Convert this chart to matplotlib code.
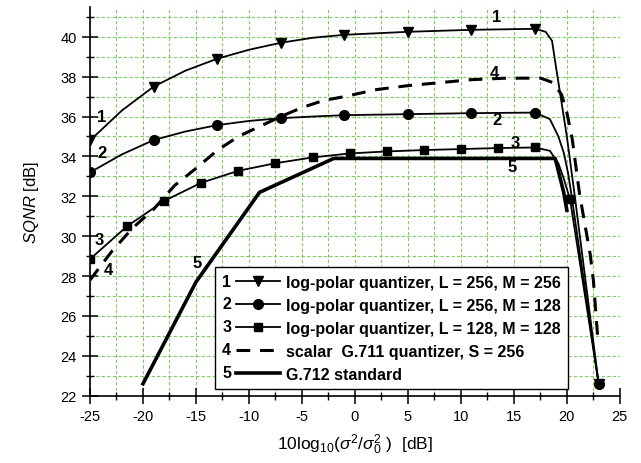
#! /usr/bin/env python3
# SQNR vs. input variance for log-polar and scalar quantizers

import matplotlib
matplotlib.use("Agg")
import matplotlib.pyplot as plt
from matplotlib.legend_handler import HandlerLine2D
from matplotlib.text import Text
from matplotlib.ticker import MultipleLocator

# 1: log-polar, L = 256, M = 256
x1 = [-25, -22, -19, -16, -13, -10, -7, -4, -1, 5, 11, 17, 18, 18.6, 19.0, 19.5, 20.0, 20.4, 20.75, 23]
y1 = [34.8, 36.3, 37.5, 38.3, 38.9, 39.35, 39.7, 39.95, 40.1, 40.25, 40.35, 40.4, 40.25, 39.8, 38.4, 36.7, 35.0, 33.4, 32.0, 22.6]
m1 = [0, 2, 4, 6, 8, 9, 10, 11, 19]

# 2: log-polar, L = 256, M = 128
x2 = [-25, -22, -19, -16, -13, -10, -7, -4, -1, 5, 11, 17, 18.4, 19.2, 19.7, 20.1, 20.4, 23]
y2 = [33.2, 34.1, 34.82, 35.25, 35.57, 35.78, 35.92, 36.0, 36.07, 36.12, 36.17, 36.2, 35.87, 35.0, 34.2, 33.2, 32.2, 22.6]
m2 = [0, 2, 4, 6, 8, 9, 10, 11, 17]

# 3: log-polar, L = 128, M = 128
x3 = [-25, -21.5, -18, -14.5, -11, -7.5, -4, -0.5, 3, 6.5, 10, 13.5, 17, 18.4, 19.2, 19.7, 20.3, 23]
y3 = [28.85, 30.5, 31.77, 32.68, 33.28, 33.66, 33.95, 34.15, 34.25, 34.32, 34.37, 34.42, 34.45, 34.28, 33.65, 32.9, 31.85, 22.6]
m3 = [0, 1, 2, 3, 4, 5, 6, 7, 8, 9, 10, 11, 12, 16]

# 4: scalar G.711, S = 256
x4 = [-25, -23, -21, -19, -17, -15, -13, -11, -9, -7, -5, -3, -1, 2, 5, 8, 11, 14, 17.5,
      18.7, 19.5, 20.0, 20.5, 21.2, 21.7, 22.2, 22.5, 22.9]
y4 = [27.8, 29.2, 30.4, 31.35, 32.55, 33.4, 34.3, 35.0, 35.5, 36.0, 36.45, 36.8, 37.0, 37.35, 37.55, 37.7, 37.85, 37.92, 37.93,
      37.7, 37.1, 36.2, 34.9, 32.1, 30.6, 29.1, 27.8, 25.0]

# 5: G.712 standard
x5 = [-20, -15, -9, -2, 18.9, 19.7, 20.0]
y5 = [22.6, 27.7, 32.2, 33.9, 33.9, 32.2, 31.3]

labels = ["log-polar quantizer, L = 256, M = 256",
          "log-polar quantizer, L = 256, M = 128",
          "log-polar quantizer, L = 128, M = 128",
          "scalar  G.711 quantizer, S = 256",
          "G.712 standard"]

# curve numbers written next to the curves
num_txt = ["1", "2", "3", "4", "5", "1", "4", "2", "3", "5"]
num_x = [-23.9, -23.9, -24.1, -23.3, -14.9, 13.4, 13.2, 13.4, 15.1, 14.8]
num_y = [36.0, 34.2, 29.85, 28.35, 28.7, 41.0, 38.2, 35.87, 34.7, 33.5]


class NumberedLine(HandlerLine2D):
    # legend handle with the curve number in front of the line
    def __init__(self, num, numw=0.87, **kw):
        super().__init__(**kw)
        self.num = num
        self.numw = numw

    def create_artists(self, legend, orig_handle, xdescent, ydescent,
                       width, height, fontsize, trans):
        shift = self.numw * fontsize
        arts = super().create_artists(legend, orig_handle, xdescent - shift, ydescent,
                                      width - shift, height, fontsize, trans)
        t = Text(-xdescent, (height - ydescent) / 2, self.num, ha="left", va="center",
                 fontsize=fontsize, fontweight="bold", transform=trans)
        return list(arts) + [t]


def main():
    plt.rcParams["font.family"] = ["Liberation Sans", "DejaVu Sans"]
    plt.rcParams["mathtext.fontset"] = "custom"
    plt.rcParams["mathtext.rm"] = "Liberation Sans"
    plt.rcParams["mathtext.it"] = "Liberation Sans:italic"
    plt.rcParams["axes.unicode_minus"] = False

    fig = plt.figure(figsize=(6.41, 4.64), dpi=100)
    ax = fig.add_axes([0.1404, 0.145, 0.967 - 0.1404, 0.983 - 0.145])

    grid_c = "#7dcc62"
    ax.grid(True, which="both", color=grid_c, linestyle=(0, (3, 2)), linewidth=0.8)
    ax.set_axisbelow(True)

    k = "black"
    l1, = ax.plot(x1, y1, color=k, lw=1.3, marker="v", ms=7.5, markevery=m1)
    l2, = ax.plot(x2, y2, color=k, lw=1.3, marker="o", ms=7, markevery=m2)
    l3, = ax.plot(x3, y3, color=k, lw=1.3, marker="s", ms=5.5, markevery=m3)
    l4, = ax.plot(x4, y4, color=k, lw=2.2, linestyle=(0, (4.5, 3.2)))
    l5, = ax.plot(x5, y5, color=k, lw=2.6)

    for t, xx, yy in zip(num_txt, num_x, num_y):
        ax.text(xx, yy, t, ha="center", va="center", fontsize=12, fontweight="bold")

    ax.set_xlim(-25, 25)
    ax.set_ylim(22, 41.5)
    ax.xaxis.set_major_locator(MultipleLocator(5))
    ax.xaxis.set_minor_locator(MultipleLocator(2.5))
    ax.yaxis.set_major_locator(MultipleLocator(2))
    ax.yaxis.set_minor_locator(MultipleLocator(1))
    ax.tick_params(which="major", direction="inout", length=11, width=1.1, labelsize=10.5, pad=4)
    ax.tick_params(which="minor", direction="inout", length=6, width=1.0)

    for s in ["top", "right"]:
        ax.spines[s].set_visible(False)
    for s in ["left", "bottom"]:
        ax.spines[s].set_linewidth(1.2)

    ax.set_xlabel(r"10log$_{10}$($\sigma^2$/$\sigma_0^2$ )  [dB]", fontsize=12.5, labelpad=6)
    ax.set_ylabel(r"$\mathit{SQNR}$ [dB]", fontsize=12, labelpad=14)

    handles = [l1, l2, l3, l4, l5]
    hmap = {h: NumberedLine(str(i + 1)) for i, h in enumerate(handles)}
    leg = ax.legend(handles, labels, handler_map=hmap, loc="upper left",
                    bbox_to_anchor=(0.236, 0.33), borderaxespad=0,
                    prop={"weight": "bold", "size": 11.5}, handlelength=3.6,
                    handletextpad=0.37, labelspacing=0.5, borderpad=0.45,
                    fancybox=False, framealpha=1, edgecolor="black")
    leg.get_frame().set_linewidth(1.0)

    fig.savefig("out.png", dpi=100)


if __name__ == "__main__":
    main()
